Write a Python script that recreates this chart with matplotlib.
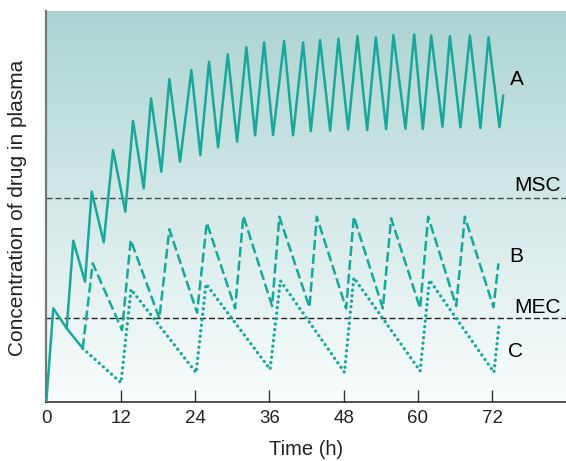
import numpy as np
import matplotlib
matplotlib.use('Agg')
import matplotlib.pyplot as plt
from matplotlib.colors import LinearSegmentedColormap

matplotlib.rcParams.update({'font.size': 14, 'font.family': 'Liberation Sans'})

###----------------------------------------------------------------------------
### values: time (h), concentration (% of axis height)
shared_t = [0.0, 1.13, 3.29, 5.88]
shared_c = [0.0, 23.96, 18.85, 13.73]

a_t = [3.29, 4.36, 6.25, 7.33, 9.27, 10.77, 12.76, 14.0, 15.73, 16.91,
       18.57, 19.87, 21.59, 23.42, 24.87, 26.28, 27.73, 29.3, 30.8, 32.3,
       33.71, 35.16, 36.61, 38.39, 39.84, 41.46, 42.7, 44.2, 45.82, 47.16,
       48.73, 50.23, 51.8, 53.2, 54.86, 56.04, 57.98, 59.39, 60.79, 62.13,
       63.96, 65.15, 66.86, 68.38, 70.09, 71.39, 73.16, 73.76]
a_c = [18.85, 41.25, 30.77, 53.79, 40.84, 64.45, 48.67, 71.87, 54.65, 77.67,
       58.9, 82.61, 61.46, 84.91, 63.17, 87.03, 65.14, 88.93, 66.57, 90.72,
       68.21, 92.0, 68.29, 92.33, 68.21, 92.0, 69.31, 92.58, 69.39, 92.92,
       69.74, 93.61, 69.57, 93.27, 69.82, 93.86, 69.9, 94.04, 69.82, 93.78,
       70.41, 93.61, 70.26, 93.78, 70.08, 93.27, 70.33, 78.34]

b_t = [5.88, 7.49, 12.23, 13.63, 18.25, 19.87, 24.34, 25.91, 30.48, 31.82,
       36.45, 37.63, 42.48, 43.67, 48.4, 49.65, 54.33, 55.67, 60.35, 61.65,
       66.17, 67.57, 72.19, 73.0]
b_c = [13.73, 35.47, 18.41, 41.43, 21.41, 44.17, 22.84, 45.86, 23.96, 47.57,
       24.55, 47.39, 24.22, 47.39, 23.96, 47.39, 23.96, 46.98, 23.96, 47.39,
       24.55, 47.39, 24.22, 35.47]

c_t = [5.88, 12.06, 13.68, 24.18, 25.79, 36.13, 37.79, 48.13, 49.65, 60.35,
       61.86, 72.26, 73.06]
c_c = [13.73, 4.94, 28.82, 7.49, 30.18, 8.36, 31.02, 7.6, 31.79, 7.93,
       31.2, 7.6, 19.26]

msc = 52.17
mec = 21.48

xticks = [0, 12, 24, 36, 48, 60, 72]
###----------------------------------------------------------------------------

teal = '#17a89a'
xmax = 83.9

fig = plt.figure(figsize=(5.66, 4.61), dpi=100)
ax = fig.add_axes([0.0818, 0.128, 1.0 - 0.0818, 0.976 - 0.128])

### background gradient, white at the bottom to teal at the top
cmap = LinearSegmentedColormap.from_list('bg', ['#fafdfd', '#acd4d2'])
grad = np.linspace(0, 1, 256).reshape(-1, 1)
ax.imshow(grad, extent=[0, xmax, 0, 100], origin='lower', aspect='auto',
          cmap=cmap, zorder=0)

### MSC / MEC lines
ax.axhline(msc, color='#4a4a4a', lw=1.0, dashes=(4.3, 2.2), zorder=1)
ax.axhline(mec, color='#222222', lw=1.0, dashes=(4.3, 2.2), zorder=1)

### curves
ax.plot(shared_t, shared_c, '-', color=teal, lw=1.8, zorder=3)
ax.plot(a_t, a_c, '-', color=teal, lw=1.8, zorder=3)
ax.plot(b_t, b_c, color=teal, lw=1.8, dashes=(4, 1.6), zorder=3)
ax.plot(c_t, c_c, color=teal, lw=2.4, dashes=(0.01, 1.65),
        dash_capstyle='round', zorder=3)

### labels on the right
ax.text(74.8, 81.07, 'A', fontsize=15, va='baseline')
ax.text(75.6, 54.04, 'MSC', fontsize=15, va='baseline')
ax.text(74.8, 35.73, 'B', fontsize=15, va='baseline')
ax.text(75.6, 22.69, 'MEC', fontsize=15, va='baseline')
ax.text(74.6, 11.59, 'C', fontsize=15, va='baseline')

ax.set_xlim(0, xmax)
ax.set_ylim(0, 100)
ax.set_xticks(xticks)
ax.set_xticklabels([str(x) for x in xticks], fontsize=13.5, color='#222222')
ax.set_yticks([])
ax.tick_params(axis='x', direction='in', length=8.6, width=1.0,
               color='#333333', pad=6)

ax.spines['top'].set_visible(False)
ax.spines['right'].set_visible(False)
ax.spines['left'].set_color('#777777')
ax.spines['left'].set_linewidth(1.6)
ax.spines['bottom'].set_color('#222222')
ax.spines['bottom'].set_linewidth(1.1)

ax.set_xlabel('Time (h)', fontsize=14.5, color='#222222', labelpad=9)
fig.text(0.031, 0.548, 'Concentration of drug in plasma', rotation=90,
         fontsize=15, color='#222222', ha='center', va='center')

fig.savefig('out.png', dpi=100)
